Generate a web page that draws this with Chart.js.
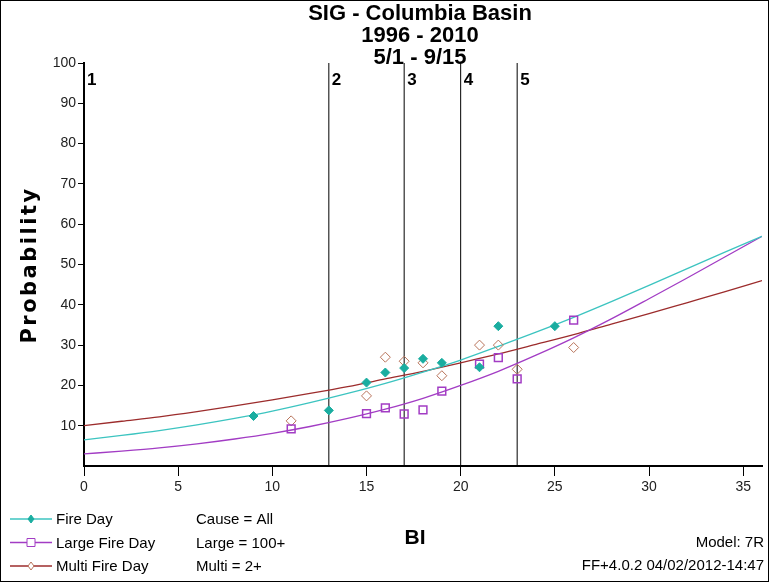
<!DOCTYPE html>
<html>
<head>
<meta charset="utf-8">
<script src="https://cdn.jsdelivr.net/npm/chart.js@4.4.1/dist/chart.umd.min.js"></script>
<style>
  body { margin: 0; background: #fff; }
  canvas { display: block; }
</style>
</head>
<body>
<canvas id="probChart" width="769" height="582"></canvas>
<script>
// fitted curves, every 2 BI
const curveBI = [0, 2, 4, 6, 8, 10, 12, 14, 16, 18, 20, 22, 24, 26, 28, 30, 32, 34, 36];
const fireDayCurve = [6.5, 7.6, 8.8, 10.2, 11.8, 13.6, 15.7, 18.0, 20.5, 23.3, 26.3, 29.7, 33.2, 36.9, 40.8, 44.8, 48.9, 53.0, 57.0];
const largeFireCurve = [3.0, 3.7, 4.5, 5.5, 6.7, 8.1, 9.8, 11.8, 14.1, 16.8, 20.0, 23.5, 27.5, 31.8, 36.5, 41.5, 46.6, 51.8, 57.0];
const multiFireCurve = [10.0, 11.1, 12.2, 13.5, 14.9, 16.4, 18.0, 19.7, 21.6, 23.5, 25.6, 27.8, 30.2, 32.6, 35.2, 37.8, 40.5, 43.2, 46.0];

// observed points
const fireDayBI = [9, 13, 15, 16, 17, 18, 19, 21, 22, 25];
const fireDayObs = [12.4, 13.8, 20.7, 23.2, 24.3, 26.6, 25.6, 24.5, 34.7, 34.7];
const largeFireBI = [11, 15, 16, 17, 18, 19, 21, 22, 23, 26];
const largeFireObs = [9.2, 13.0, 14.4, 12.9, 13.9, 18.6, 25.3, 26.9, 21.6, 36.2];
const multiFireBI = [11, 15, 16, 17, 18, 19, 21, 22, 23, 26];
const multiFireObs = [11.2, 17.4, 27.0, 26.0, 25.6, 22.4, 30.0, 30.0, 24.0, 29.4];

// class breakpoints
const classStarts = [0, 13, 17, 20, 23];
const classLabels = ['1', '2', '3', '4', '5'];

const xTicks = [0, 5, 10, 15, 20, 25, 30, 35];
const yTicks = [10, 20, 30, 40, 50, 60, 70, 80, 90, 100];

const titleLines = ['SIG - Columbia Basin', '1996 - 2010', '5/1 - 9/15'];
const legendNames = ['Fire Day', 'Large Fire Day', 'Multi Fire Day'];
const legendNotes = ['Cause = All', 'Large = 100+', 'Multi = 2+'];
const footNotes = ['Model: 7R', 'FF+4.0.2 04/02/2012-14:47'];

const TEAL = '#3cc4c0';
const TEAL_PT = '#1aada0';
const PURPLE = '#a23cc4';
const RED = '#9c2c2c';
const RED_PT = '#b8735a';
const SANS = '"Liberation Sans", Arial, sans-serif';
const NARROW = '"Liberation Sans Narrow", "Arial Narrow", "Liberation Sans", sans-serif';

const pairs = (xs, ys) => xs.map((x, i) => ({ x: x, y: ys[i] }));

const markers = [
  { color: TEAL, style: 'diamond', fill: TEAL_PT, stroke: TEAL_PT, r: 3 },
  { color: PURPLE, style: 'rect', fill: '#fff', stroke: PURPLE, r: 4 },
  { color: RED, style: 'diamond', fill: '#fff', stroke: RED_PT, r: 3 }
];

const pointSet = (label, xs, ys, style, fill, stroke, r, bw) => ({
  label: label,
  data: pairs(xs, ys),
  showLine: false,
  pointStyle: style,
  pointRadius: r,
  backgroundColor: fill,
  borderColor: stroke,
  borderWidth: bw
});

const curveSet = (label, ys, color) => ({
  label: label,
  data: pairs(curveBI, ys),
  showLine: true,
  cubicInterpolationMode: 'monotone',
  pointRadius: 0,
  borderColor: color,
  borderWidth: 1.3
});

const datasets = [
  pointSet('Fire Day pts', fireDayBI, fireDayObs, 'rectRot', TEAL_PT, TEAL_PT, 4.5, 1),
  pointSet('Large Fire Day pts', largeFireBI, largeFireObs, 'rect', 'rgba(0,0,0,0)', PURPLE, 5.5, 1.5),
  pointSet('Multi Fire Day pts', multiFireBI, multiFireObs, 'rectRot', 'rgba(0,0,0,0)', RED_PT, 5, 1),
  curveSet('Fire Day', fireDayCurve, TEAL),
  curveSet('Large Fire Day', largeFireCurve, PURPLE),
  curveSet('Multi Fire Day', multiFireCurve, RED)
];

classStarts.slice(1).forEach(b => {
  datasets.push({
    label: 'class ' + b,
    data: [{ x: b, y: 0 }, { x: b, y: 100 }],
    showLine: true,
    pointRadius: 0,
    borderColor: '#000',
    borderWidth: 1
  });
});

const annotate = {
  id: 'annotate',
  afterDraw(chart) {
    const ctx = chart.ctx;
    const area = chart.chartArea;
    const xs = chart.scales.x;
    ctx.save();
    ctx.fillStyle = '#000';

    // title
    ctx.textAlign = 'center';
    ctx.textBaseline = 'middle';
    ctx.font = 'bold 22px ' + SANS;
    const cx = (area.left + area.right) / 2 - 3;
    titleLines.forEach((t, i) => ctx.fillText(t, cx, 14 + i * 22));

    // class numbers
    ctx.textAlign = 'left';
    ctx.font = 'bold 17px ' + SANS;
    classStarts.forEach((b, i) => {
      ctx.fillText(classLabels[i], xs.getPixelForValue(b) + 3, 80);
    });

    // axis titles
    ctx.textAlign = 'center';
    ctx.font = 'bold 21px ' + SANS;
    ctx.fillText('BI', 415, 538);
    ctx.save();
    ctx.translate(31, 265);
    ctx.rotate(-Math.PI / 2);
    ctx.font = 'bold 21px "DejaVu Sans", Verdana, sans-serif';
    ctx.letterSpacing = '2.5px';
    ctx.fillText('Probability', 0, 0);
    ctx.restore();

    // legend
    ctx.font = '15px ' + SANS;
    ctx.textAlign = 'left';
    legendNames.forEach((name, i) => {
      const ly = 519 + i * 23.5;
      const m = markers[i];
      ctx.strokeStyle = m.color;
      ctx.lineWidth = 1.3;
      ctx.beginPath();
      ctx.moveTo(10, ly);
      ctx.lineTo(52, ly);
      ctx.stroke();
      ctx.lineWidth = 1;
      ctx.strokeStyle = m.stroke;
      ctx.beginPath();
      if (m.style === 'rect') {
        ctx.rect(31 - m.r, ly - m.r, m.r * 2, m.r * 2);
      } else {
        ctx.moveTo(31, ly - m.r - 1);
        ctx.lineTo(31 + m.r, ly);
        ctx.lineTo(31, ly + m.r + 1);
        ctx.lineTo(31 - m.r, ly);
        ctx.closePath();
      }
      ctx.fillStyle = m.fill;
      ctx.fill();
      ctx.stroke();
      ctx.fillStyle = '#000';
      ctx.fillText(name, 56, ly + 1);
      ctx.fillText(legendNotes[i], 196, ly + 1);
    });
    ctx.textAlign = 'right';
    ctx.fillText(footNotes[0], 764, 543);
    ctx.fillText(footNotes[1], 764, 566);

    // frame
    ctx.strokeStyle = '#000';
    ctx.lineWidth = 1;
    ctx.strokeRect(0.5, 0.5, 768, 581);
    ctx.restore();
  }
};

new Chart(document.getElementById('probChart').getContext('2d'), {
  type: 'scatter',
  data: { datasets: datasets },
  options: {
    responsive: false,
    animation: false,
    layout: { padding: { top: 63, right: 1, left: 0, bottom: 0 } },
    plugins: {
      legend: { display: false },
      title: { display: false },
      tooltip: { enabled: false }
    },
    scales: {
      x: {
        type: 'linear',
        min: 0,
        max: 36,
        afterBuildTicks: s => { s.ticks = xTicks.map(v => ({ value: v })); },
        afterFit: s => { s.height = 116; },
        grid: { drawOnChartArea: false, tickLength: 10, color: '#000' },
        border: { color: '#000', width: 2 },
        ticks: { color: '#222', padding: 3, font: { family: NARROW, size: 14 } }
      },
      y: {
        type: 'linear',
        min: 0,
        max: 100,
        afterBuildTicks: s => { s.ticks = yTicks.map(v => ({ value: v })); },
        afterFit: s => { s.width = 84; },
        grid: { drawOnChartArea: false, tickLength: 6, color: '#000' },
        border: { color: '#000', width: 2 },
        ticks: { color: '#222', padding: 2, font: { family: NARROW, size: 14 } }
      }
    }
  },
  plugins: [annotate]
});
</script>
</body>
</html>
